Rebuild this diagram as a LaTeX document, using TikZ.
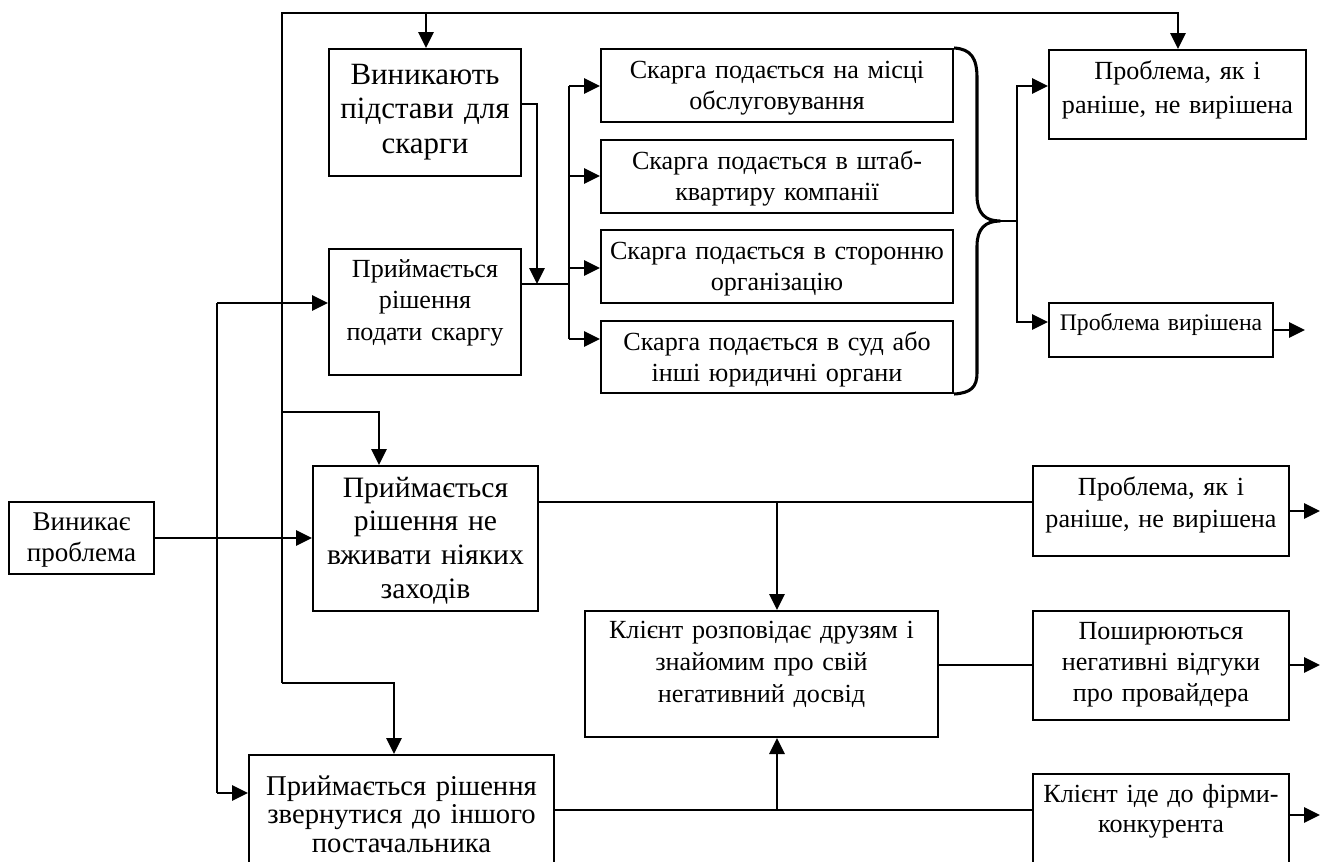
\documentclass[tikz,border=0pt]{standalone}
\usepackage{fontspec}
\setmainfont{Liberation Serif}
\usetikzlibrary{arrows.meta,fit}
\begin{document}
\begin{tikzpicture}[x=0.75pt,y=-0.75pt,
  line width=1.5pt,
  box/.style={draw,inner sep=0pt,line width=1.5pt},
  txt/.style={anchor=base,align=center,inner sep=0pt,text width=330pt},
  fs/.style 2 args={font=\fontsize{#1pt}{#2pt}\selectfont},
  arr/.style={-{Triangle[length=12pt,width=11.5pt]}},
  brace/.style={line width=2.3pt,line join=round}]
\useasboundingbox (0,0) rectangle (1330,861);
\fill[white] (0,0) rectangle (1330,861);

% boxes
\node[box,fit={(9,502)(154,574)}] (prob) {};
\node[box,fit={(329,49)(521,176)}] (grounds) {};
\node[box,fit={(329,249)(521,375)}] (decide) {};
\node[box,fit={(601,49)(953,122)}] (c1) {};
\node[box,fit={(601,140)(953,213)}] (c2) {};
\node[box,fit={(601,230)(953,303)}] (c3) {};
\node[box,fit={(601,321)(953,393)}] (c4) {};
\node[box,fit={(1049,50)(1306,139)}] (unres1) {};
\node[box,fit={(1049,303)(1273,357)}] (res) {};
\node[box,fit={(313,466)(538,611)}] (nothing) {};
\node[box,fit={(249,755)(554,880)}] (other) {};
\node[box,fit={(1033,466)(1289,556)}] (unres2) {};
\node[box,fit={(585,611)(938,737)}] (tell) {};
\node[box,fit={(1033,611)(1289,720)}] (spread) {};
\node[box,fit={(1033,774)(1289,880)}] (comp) {};

% texts
\node[txt,fs={20.3}{23.8}] (probT) at (81.5,530) {Виникає\\проблема};
\node[txt,fs={23.2}{26}] (groundsT) at (425,84) {Виникають\\підстави для\\скарги};
\node[txt,fs={19.6}{23.8}] (decideT) at (425,277) {Приймається\\рішення\\подати скаргу};
\node[txt,fs={19.6}{23.8}] (c1T) at (777,78) {Скарга подається на місці\\обслуговування};
\node[txt,fs={19.6}{23.8}] (c2T) at (777,169) {Скарга подається в штаб-\\квартиру компанії};
\node[txt,fs={19.6}{23.8}] (c3T) at (777,259) {Скарга подається в сторонню\\організацію};
\node[txt,fs={19.6}{23.8}] (c4T) at (777,350) {Скарга подається в суд або\\інші юридичні органи};
\node[txt,fs={19.6}{26.2}] (unres1T) at (1177.5,79) {Проблема, як і\\раніше, не вирішена};
\node[txt,fs={17.8}{20}] (resT) at (1161,330) {Проблема вирішена};
\node[txt,fs={22.2}{25.3}] (nothingT) at (425.5,497) {Приймається\\рішення не\\вживати ніяких\\заходів};
\node[txt,fs={21.5}{21.4}] (otherT) at (401.5,795) {Приймається рішення\\звернутися до іншого\\постачальника};
\node[txt,fs={19.6}{24}] (unres2T) at (1161,495) {Проблема, як і\\раніше, не вирішена};
\node[txt,fs={19.6}{24}] (tellT) at (761.5,638) {Клієнт розповідає друзям і\\знайомим про свій\\негативний досвід};
\node[txt,fs={19.6}{23.3}] (spreadT) at (1161,639) {Поширюються\\негативні відгуки\\про провайдера};
\node[txt,fs={19.6}{22.5}] (compT) at (1161,802) {Клієнт іде до фірми-\\конкурента};

% junction points
\coordinate (tA) at (217,303);
\coordinate (tB) at (217,793);
\coordinate (lTop) at (282,13);
\coordinate (lMid) at (282,412);
\coordinate (lBot) at (282,683);
\coordinate (tr) at (1178,13);
\coordinate (gIn) at (426,13);
\coordinate (nIn) at (379,412);
\coordinate (oIn) at (394,683);
\coordinate (gDrop) at (537,104);
\coordinate (dOut) at (569,284);
\coordinate (k1) at (569,86);
\coordinate (k2) at (569,176);
\coordinate (k3) at (569,268);
\coordinate (k4) at (569,339);
\coordinate (bTip) at (1000,221);
\coordinate (rs) at (1017,221);
\coordinate (r1) at (1017,86);
\coordinate (r2) at (1017,322);
\coordinate (resEnd) at (1305,330);
\coordinate (n1) at (777,502);
\coordinate (o1) at (777,810);
\coordinate (ts) at (990,665);
\coordinate (u2End) at (1320,511);
\coordinate (spEnd) at (1320,665);
\coordinate (cEnd) at (1320,815);

% problem to the three decisions
\draw[arr] (prob.east) -- (prob.east -| nothing.west);
\draw (tA) -- (tB);
\draw[arr] (tA) -- (tA -| decide.west);
\draw[arr] (tB) -- (tB -| other.west);

% feedback loop along the top
\draw[arr] (lBot) -- (lTop) -- (tr) -- (tr |- unres1.north);
\draw[arr] (gIn) -- (gIn |- grounds.north);
\draw[arr] (lMid) -- (nIn) -- (nIn |- nothing.north);
\draw[arr] (lBot) -- (oIn) -- (oIn |- other.north);

% complaint branch
\draw[arr] (gDrop -| grounds.east) -- (gDrop) -- (gDrop |- dOut);
\draw (dOut -| decide.east) -- (dOut);
\draw (k1) -- (k4);
\draw[arr] (k1) -- (k1 -| c1.west);
\draw[arr] (k2) -- (k2 -| c2.west);
\draw[arr] (k3) -- (k3 -| c3.west);
\draw[arr] (k4) -- (k4 -| c4.west);

% brace over the four complaint channels
\draw[brace] (c1.north east) .. controls (971,49) and (977,58) .. (977,78)
  -- (977,196) .. controls (977,213) and (985,221) .. (bTip)
  .. controls (985,221) and (977,229) .. (977,246)
  -- (977,373) .. controls (977,387) and (971,393) .. (c4.south east);
\draw (bTip) -- (rs);
\draw[arr] (rs) -- (r1) -- (r1 -| unres1.west);
\draw[arr] (rs) -- (r2) -- (r2 -| res.west);
\draw[arr] (res.east |- resEnd) -- (resEnd);

% doing nothing
\draw (n1 -| nothing.east) -- (n1 -| unres2.west);
\draw[arr] (n1) -- (n1 |- tell.north);
\draw[arr] (unres2.east |- u2End) -- (u2End);
\draw (ts -| tell.east) -- (ts -| spread.west);
\draw[arr] (spread.east |- spEnd) -- (spEnd);

% switching provider
\draw (o1 -| other.east) -- (o1 -| comp.west);
\draw[arr] (o1) -- (o1 |- tell.south);
\draw[arr] (comp.east |- cEnd) -- (cEnd);
\end{tikzpicture}
\end{document}
